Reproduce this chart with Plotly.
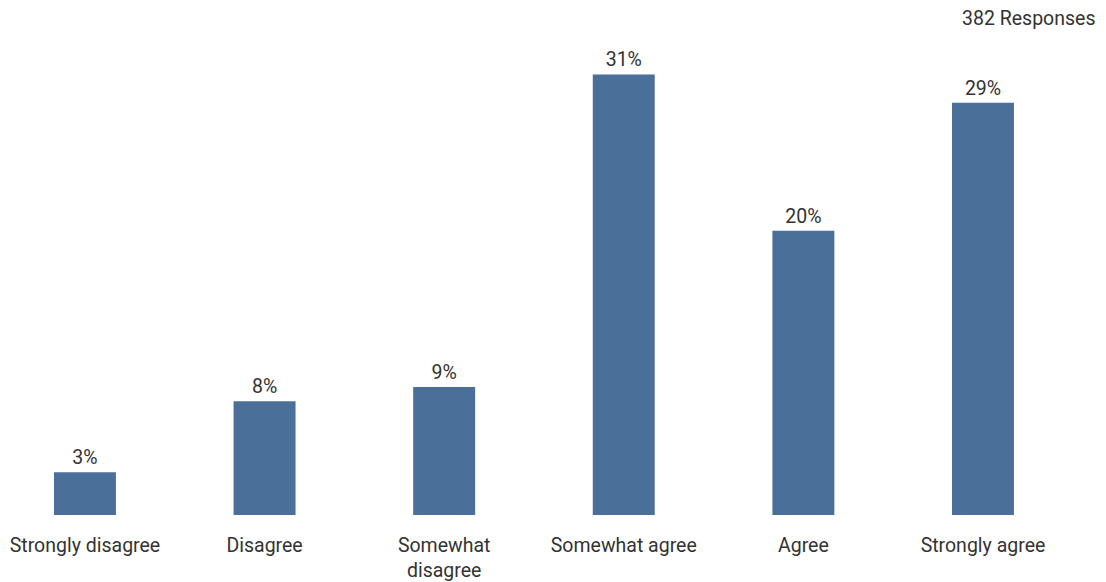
import plotly.graph_objects as go

# Survey response distribution
categories = ["Strongly disagree", "Disagree", "Somewhat<br>disagree",
              "Somewhat agree", "Agree", "Strongly agree"]
percentages = [3, 8, 9, 31, 20, 29]
total_responses = 382

bar_color = "#4a6f98"
text_color = "#333333"
font_family = "Roboto, Arial, sans-serif"
font_size = 19.5

fig = go.Figure(
    go.Bar(
        x=list(range(len(categories))),
        y=percentages,
        width=0.345,
        marker=dict(color=bar_color, line=dict(width=0)),
        text=[f"{p}%" for p in percentages],
        textposition="outside",
        textfont=dict(size=font_size, color=text_color, family=font_family),
        cliponaxis=False,
        hoverinfo="skip",
    )
)

fig.update_layout(
    width=1106,
    height=582,
    margin=dict(l=0, r=0, t=46, b=65),
    paper_bgcolor="white",
    plot_bgcolor="white",
    showlegend=False,
    font=dict(family=font_family, size=font_size, color=text_color),
    xaxis=dict(
        range=[-0.473, 5.685],
        tickmode="array",
        tickvals=list(range(len(categories))),
        ticktext=categories,
        showgrid=False,
        zeroline=False,
        showline=False,
        ticks="",
        ticklabelstandoff=16,
        tickfont=dict(size=font_size, color=text_color, family=font_family),
        fixedrange=True,
    ),
    yaxis=dict(
        range=[0, 33],
        visible=False,
        fixedrange=True,
    ),
    annotations=[
        dict(
            text=f"{total_responses} Responses",
            xref="paper", yref="paper",
            x=0.9915, y=1,
            xanchor="right", yanchor="middle",
            yshift=46 - 18,
            showarrow=False,
            font=dict(size=font_size, color=text_color, family=font_family),
        )
    ],
)

fig.write_html("out.html")
